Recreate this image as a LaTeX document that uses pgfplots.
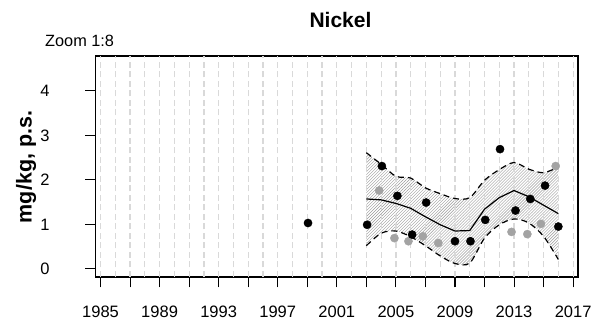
\documentclass[border=0pt]{standalone}
\usepackage{pgfplots}
\pgfplotsset{compat=1.18}
\usepgfplotslibrary{fillbetween}
\usetikzlibrary{patterns}
\usepackage{fontspec}
\setmainfont{Liberation Sans}

% measured concentrations (black: main series, grey: second series)
\pgfplotstableread{
year  val
1999.05 1.03
2003.05 0.99
2004.05 2.31
2005.10 1.64
2006.10 0.77
2007.05 1.49
2009.00 0.62
2010.05 0.62
2011.05 1.10
2012.05 2.69
2013.10 1.31
2014.10 1.57
2015.10 1.87
2016.00 0.95
}\blackpts
\pgfplotstableread{
year  val
2003.87 1.76
2004.90 0.69
2005.85 0.62
2006.82 0.73
2007.87 0.58
2012.83 0.83
2013.90 0.78
2014.82 1.01
2015.82 2.31
}\greypts
% smoothed trend with its confidence band
\pgfplotstableread{
year mean upper lower
2003 1.57 2.61 0.52
2004 1.55 2.35 0.80
2005 1.47 2.08 0.85
2006 1.36 2.04 0.72
2007 1.17 1.82 0.52
2008 0.99 1.69 0.29
2009 0.85 1.58 0.12
2010 0.86 1.60 0.13
2011 1.34 1.99 0.69
2012 1.60 2.23 0.99
2013 1.76 2.39 1.12
2014 1.62 2.24 1.03
2015 1.43 2.16 0.73
2016 1.24 2.29 0.21
}\trend

\begin{document}
\begin{tikzpicture}
\begin{axis}[
  at={(95.5bp,46bp)}, anchor=south west,
  scale only axis, width=482.5bp, height=221bp,
  xmin=1984.66, xmax=2017.33, ymin=-0.184, ymax=4.784,
  axis line style={line width=1.8bp},
  tick align=outside,
  xtick pos=bottom, ytick pos=left,
  major tick length=10.5bp, minor tick length=10.5bp,
  tick style={black, line width=1.1bp},
  xtick={1985,1989,...,2017},
  minor xtick={1987,1991,...,2015},
  ytick={0,1,2,3,4},
  /pgf/number format/assume math mode=true,
  ticklabel style={font=\fontsize{16.5bp}{19bp}\selectfont},
  xticklabel style={/pgf/number format/1000 sep={}, yshift=-15bp},
  yticklabel style={xshift=-32bp},
]
% yearly vertical guide lines
\pgfplotsinvokeforeach{1985,1986,...,2017}{
  \draw[black!15, line width=1.2bp, dash pattern=on 6bp off 3.5bp]
    (axis cs:#1,-0.184) -- (axis cs:#1,4.784);
}
\addplot[name path=up, black, line width=1.2bp, dash pattern=on 6bp off 4bp,
  smooth, tension=0.5] table[x=year, y=upper] {\trend};
\addplot[name path=lo, black, line width=1.2bp, dash pattern=on 6bp off 4bp,
  smooth, tension=0.5] table[x=year, y=lower] {\trend};
\addplot[pattern=north east lines, pattern color=black!40, draw=none]
  fill between[of=up and lo];
\addplot[black, line width=1.2bp] table[x=year, y=mean] {\trend};
\addplot[only marks, mark=*, mark size=4.1bp, color=black!36] table[x=year, y=val] {\greypts};
\addplot[only marks, mark=*, mark size=4.1bp, color=black] table[x=year, y=val] {\blackpts};
\end{axis}
\node[anchor=base, font=\bfseries\fontsize{21bp}{23bp}\selectfont] at (340.5bp,295.7bp) {Nickel};
\node[anchor=base west, inner sep=0pt, font=\fontsize{16.3bp}{18bp}\selectfont] at (45bp,276.5bp) {Zoom 1:8};
\node[rotate=90, font=\bfseries\fontsize{21.5bp}{24bp}\selectfont] at (26bp,156bp) {mg/kg, p.s.};
\pgfresetboundingbox
\path[use as bounding box] (0,0) rectangle (598bp,323bp);
\end{tikzpicture}
\end{document}
